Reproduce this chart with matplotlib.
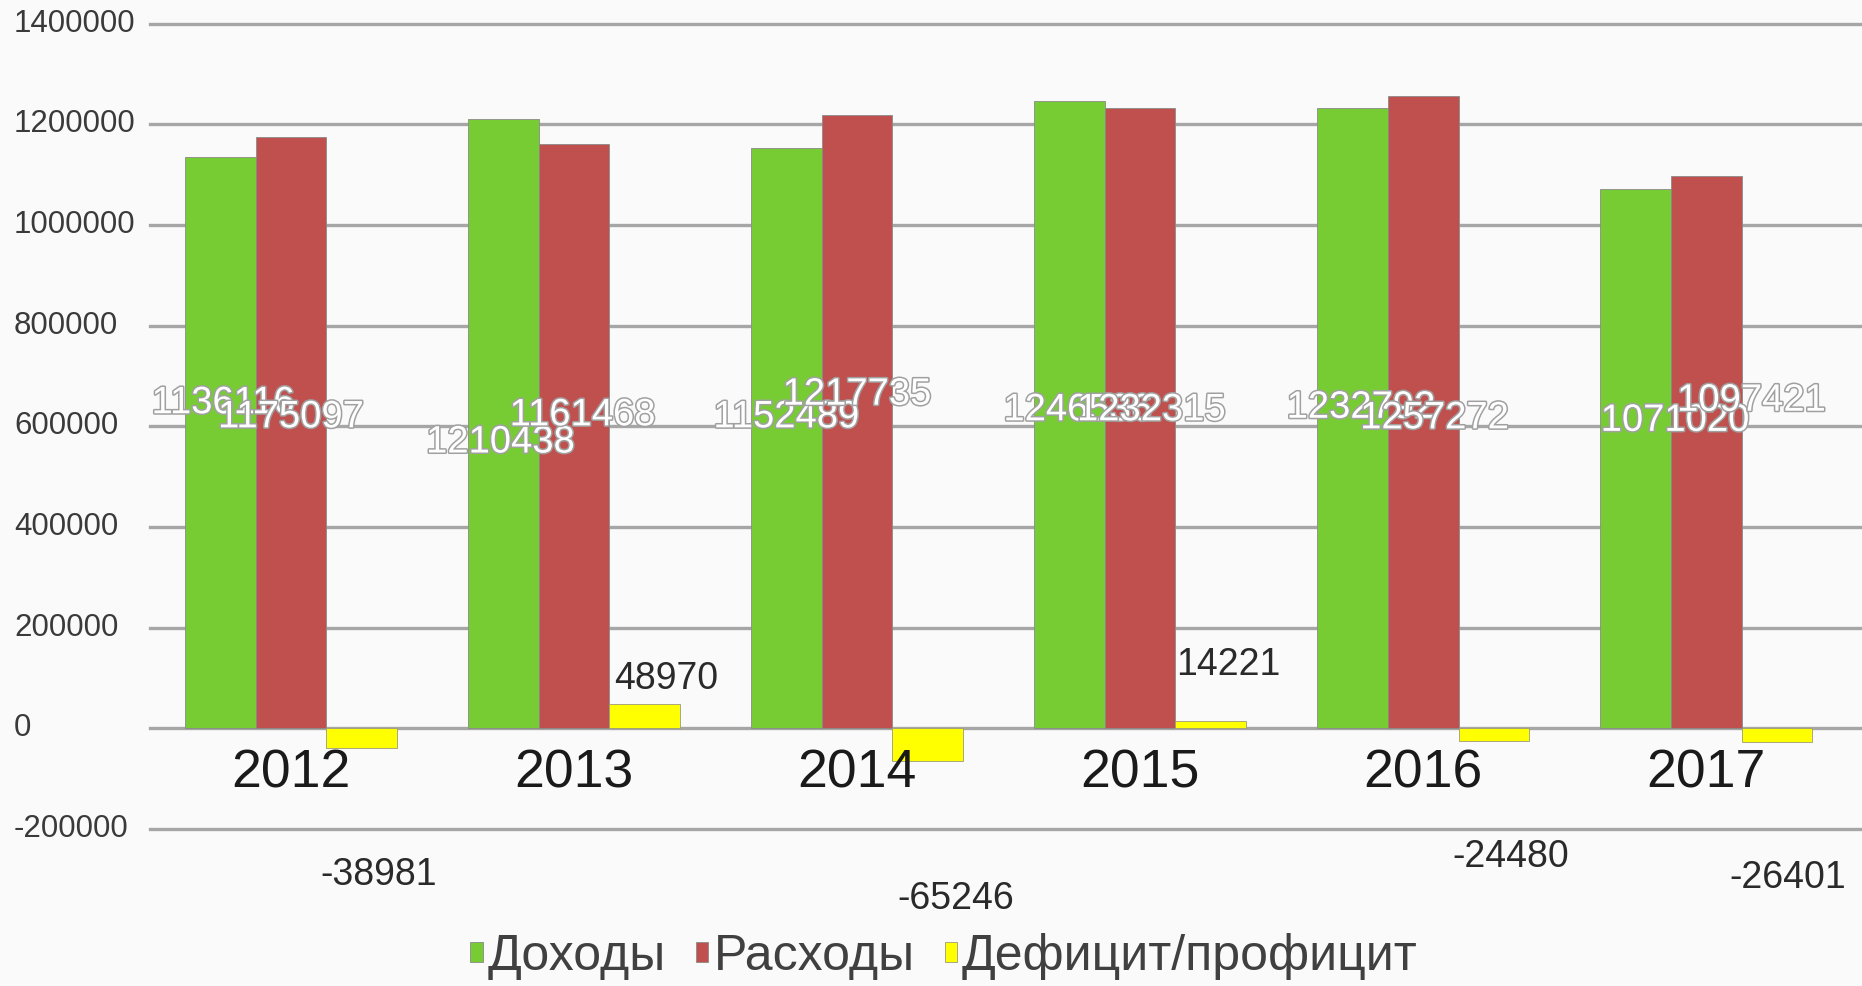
import matplotlib
matplotlib.use('Agg')
import numpy as np
import matplotlib.pyplot as plt
import matplotlib.patheffects as pe
from matplotlib.transforms import blended_transform_factory

plt.rcParams['font.family'] = ['Liberation Sans', 'DejaVu Sans']

years = ['2012', '2013', '2014', '2015', '2016', '2017']
income = [1136116, 1210438, 1152489, 1246536, 1232792, 1071020]
expense = [1175097, 1161468, 1217735, 1232315, 1257272, 1097421]
balance = [-38981, 48970, -65246, 14221, -24480, -26401]
series_names = ['Доходы', 'Расходы', 'Дефицит/профицит']
yticks = [1400000, 1200000, 1000000, 800000, 600000, 400000, 200000, 0, -200000]

# label placement (layout only) - the labels in the source sit in odd spots
inc_lbl_dx = [0.01, -0.01, 0.0, 0.03, 0.03, 0.14]
inc_lbl_y = [646000, 568000, 618000, 632000, 637000, 611000]
exp_lbl_dx = [0.0, 0.03, 0.0, 0.04, 0.04, 0.16]
exp_lbl_y = [618000, 622000, 663000, 632000, 616000, 651000]
bal_lbl_dx = [0.06, 0.075, 0.10, 0.06, 0.06, 0.04]
bal_lbl_y = [-292000, 99000, -340000, 125000, -255000, -297000]

c_green = '#78cc33'
c_red = '#c0504d'
c_yellow = '#ffff00'

fig = plt.figure(figsize=(18.62, 9.86), dpi=100, facecolor='#fafafa')
ax = fig.add_axes([0.0803, 0.1592, 0.912, 0.8167])
ax.set_facecolor('none')

x = np.arange(len(years))
w = 0.25
b1 = ax.bar(x - w, income, w, color=c_green, edgecolor='#8a8a8a', linewidth=0.6, zorder=3, label=series_names[0])
b2 = ax.bar(x, expense, w, color=c_red, edgecolor='#8a8a8a', linewidth=0.6, zorder=3, label=series_names[1])
b3 = ax.bar(x + w, balance, w, color=c_yellow, edgecolor='#9a9a7a', linewidth=0.6, zorder=3, label=series_names[2])

ax.set_xlim(-0.5, 5.5)
ax.set_ylim(-200000, 1400000)

# gridlines reaching past the axes to the right edge
for v in yticks:
    ax.axhline(v, color='#a6a6a6', lw=2.4, zorder=1, xmax=1.01, clip_on=False)

for s in ax.spines.values():
    s.set_visible(False)
ax.set_xticks([])
ax.set_yticks([])

trans = blended_transform_factory(fig.transFigure, ax.transData)
for v in yticks:
    ax.text(0.0075, v, str(v), transform=trans, ha='left', va='center',
            fontsize=22.5, color='#3a3a3a')

for i, yr in enumerate(years):
    ax.text(x[i], -89000, yr, ha='center', va='center', fontsize=38.5,
            color='#1a1a1a', zorder=5)

outline = [pe.Stroke(linewidth=2.2, foreground='#a0a0a0'), pe.Normal()]
for i in range(len(years)):
    ax.text(x[i] - w + inc_lbl_dx[i], inc_lbl_y[i], str(income[i]), ha='center', va='center',
            fontsize=27.5, color='white', path_effects=outline, zorder=6)
    ax.text(x[i] + exp_lbl_dx[i], exp_lbl_y[i], str(expense[i]), ha='center', va='center',
            fontsize=27.5, color='white', path_effects=outline, zorder=6)
    ax.text(x[i] + w + bal_lbl_dx[i], bal_lbl_y[i], str(balance[i]), ha='center', va='center',
            fontsize=27, color='#2a2a2a', zorder=6, clip_on=False)

leg = fig.legend(handles=[b1, b2, b3], loc='center', bbox_to_anchor=(0.507, 0.03), ncol=3,
                 frameon=False, fontsize=36, handlelength=0.25, handleheight=0.25,
                 handletextpad=0.1, columnspacing=0.6, labelcolor='#404040')

fig.savefig('out.png', dpi=100, facecolor=fig.get_facecolor())
